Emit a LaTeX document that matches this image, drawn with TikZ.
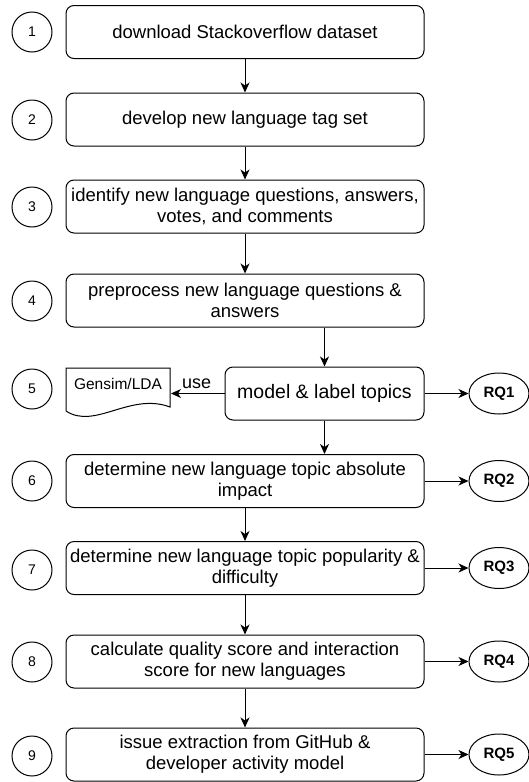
\documentclass[tikz,border=0pt]{standalone}
\usepackage{fontspec}
\setmainfont{Liberation Sans}
\usetikzlibrary{arrows.meta,shapes.geometric}

\begin{document}
\begin{tikzpicture}[x=1pt, y=-1pt, line width=1pt,
  stepbox/.style={draw, rounded corners=8pt, minimum width=358pt, minimum height=53pt,
    inner sep=0pt, align=center, font=\fontsize{18.5}{21}\selectfont},
  num/.style={draw, circle, minimum size=40pt, inner sep=0pt, font=\fontsize{14}{16}\selectfont},
  rq/.style={draw, ellipse, minimum width=60pt, minimum height=41pt, inner sep=0pt,
    font=\fontsize{15}{17}\selectfont\bfseries},
  flow/.style={-{Stealth[length=10pt, width=9pt, inset=3pt]}}]
  \useasboundingbox (0,0) rectangle (528,782);
  \node [stepbox] (s1) at (245, 32) {download Stackoverflow dataset};
  \node [stepbox] (s2) at (245, 119.5) {develop new language tag set};
  \node [stepbox] (s3) at (245, 206.5) {identify new language questions, answers,\\votes, and comments};
  \node [stepbox] (s4) at (245, 300.5) {preprocess new language questions \&\\answers};
  \node [stepbox, minimum width=199pt, font=\fontsize{19.5}{22}\selectfont] (s5) at (324.5, 393.5) {model \& label topics};
  \node [stepbox] (s6) at (245, 481) {determine new language topic absolute\\impact};
  \node [stepbox] (s7) at (245, 568) {determine new language topic popularity \&\\difficulty};
  \node [stepbox] (s8) at (245, 661.5) {calculate quality score and interaction\\score for new languages};
  \node [stepbox] (s9) at (245, 754.5) {issue extraction from GitHub \&\\developer activity model};
  \foreach \i/\y in {1/32, 2/120, 3/207, 4/301, 5/389, 6/481, 7/570, 8/662, 9/756}
    \node [num] (n\i) at (32, \y) {\i};
  % document shape
  \draw (66,368) -- (170,368) -- (170,407) .. controls (130,392) and (95,430) .. (66,411) -- cycle;
  \node [font=\fontsize{15.5}{17}\selectfont] (gensim) at (118,384) {Gensim/LDA};
  \coordinate (doc) at (171,393.5);
  \node [rq] (rq1) at (499, 393.5) {RQ1};
  \node [rq] (rq2) at (499, 481) {RQ2};
  \node [rq] (rq3) at (499, 568) {RQ3};
  \node [rq] (rq4) at (499, 661.5) {RQ4};
  \node [rq] (rq5) at (499, 754.5) {RQ5};
  \draw [flow] (s1) -- (s2);
  \draw [flow] (s2) -- (s3);
  \draw [flow] (s3) -- (s4);
  \draw [flow] (s4.south -| s5) -- (s5);
  \draw [flow] (s5) -- (s5.south |- s6.north);
  \draw [flow] (s6) -- (s7);
  \draw [flow] (s7) -- (s8);
  \draw [flow] (s8) -- (s9);
  \draw [flow] (s5) -- (doc) node [pos=0.52, above=1pt, font=\fontsize{18}{20}\selectfont] {use};
  \foreach \i in {5,...,9} {
    \pgfmathtruncatemacro\r{\i-4}
    \draw [flow] (s\i) -- (rq\r);
  }
\end{tikzpicture}
\end{document}
